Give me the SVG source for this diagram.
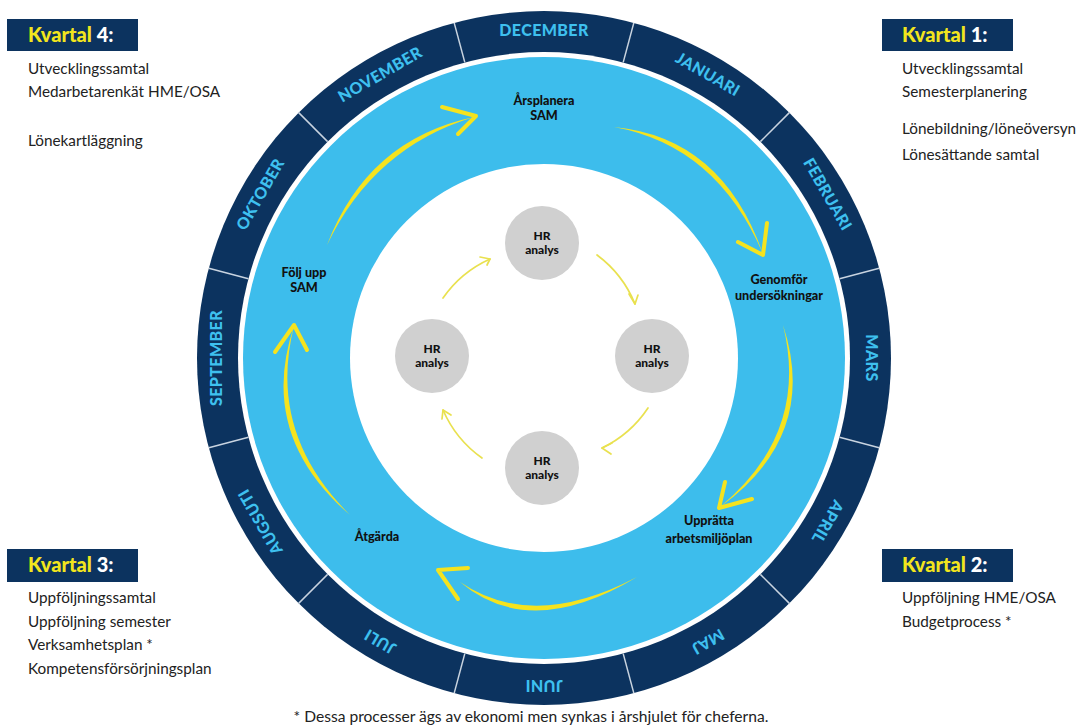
<svg xmlns="http://www.w3.org/2000/svg" width="1089" height="727" viewBox="0 0 1089 727">
<style>
.mo{font-family:Lato,'Liberation Sans',sans-serif;font-weight:900;font-size:16px;fill:#3ec0ef;text-anchor:middle;letter-spacing:0.4px}
.kv{font-family:Lato,'Liberation Sans',sans-serif;font-weight:900;font-size:20px}
.kvy{fill:#f2e51d}
.kvw{fill:#ffffff}
.bd{font-family:Lato,'Liberation Sans',sans-serif;font-size:15.3px;fill:#222}
.ft{font-family:Lato,'Liberation Sans',sans-serif;font-size:15.6px;fill:#222;text-anchor:middle}
.pl{font-family:Lato,'Liberation Sans',sans-serif;font-weight:900;font-size:12.6px;fill:#111;text-anchor:middle}
.hr{font-family:Lato,'Liberation Sans',sans-serif;font-weight:900;font-size:12px;fill:#111;text-anchor:middle}
.box{fill:#0c335f}
.div{stroke:#c9d4e0;stroke-width:1.5}
.ya{fill:#f5e31e}
.yh{fill:none;stroke:#f5e31e;stroke-width:4;stroke-linecap:round;stroke-linejoin:round}
.sa{fill:none;stroke:#e9e14f;stroke-width:1.7;stroke-linecap:round;stroke-linejoin:round}
.gc{fill:#d0d0d0}
</style>
<rect width="1089" height="727" fill="#ffffff"/>

<g id="wheel">
<circle cx="544" cy="358" r="347" fill="#0c335f"/>
<circle cx="544" cy="358" r="306" fill="#ffffff"/>
<circle cx="544" cy="358" r="301" fill="#3dbdec"/>
<circle cx="544" cy="358" r="194" fill="#ffffff"/>
<g id="dividers">
<line class="div" x1="544" y1="52" x2="544" y2="11" transform="rotate(15 544 358)"/>
<line class="div" x1="544" y1="52" x2="544" y2="11" transform="rotate(45 544 358)"/>
<line class="div" x1="544" y1="52" x2="544" y2="11" transform="rotate(75 544 358)"/>
<line class="div" x1="544" y1="52" x2="544" y2="11" transform="rotate(105 544 358)"/>
<line class="div" x1="544" y1="52" x2="544" y2="11" transform="rotate(135 544 358)"/>
<line class="div" x1="544" y1="52" x2="544" y2="11" transform="rotate(165 544 358)"/>
<line class="div" x1="544" y1="52" x2="544" y2="11" transform="rotate(195 544 358)"/>
<line class="div" x1="544" y1="52" x2="544" y2="11" transform="rotate(225 544 358)"/>
<line class="div" x1="544" y1="52" x2="544" y2="11" transform="rotate(255 544 358)"/>
<line class="div" x1="544" y1="52" x2="544" y2="11" transform="rotate(285 544 358)"/>
<line class="div" x1="544" y1="52" x2="544" y2="11" transform="rotate(315 544 358)"/>
<line class="div" x1="544" y1="52" x2="544" y2="11" transform="rotate(345 544 358)"/>
</g>
<g id="months">
<text class="mo" x="544" y="36">DECEMBER</text>
<text class="mo" x="544" y="36" transform="rotate(30 544 358)">JANUARI</text>
<text class="mo" x="544" y="36" transform="rotate(60 544 358)">FEBRUARI</text>
<text class="mo" x="544" y="36" transform="rotate(90 544 358)">MARS</text>
<text class="mo" x="544" y="36" transform="rotate(120 544 358)">APRIL</text>
<text class="mo" x="544" y="36" transform="rotate(150 544 358)">MAJ</text>
<text class="mo" x="544" y="36" transform="rotate(180 544 358)">JUNI</text>
<text class="mo" x="544" y="36" transform="rotate(210 544 358)">JULI</text>
<text class="mo" x="544" y="36" transform="rotate(240 544 358)">AUGSUTI</text>
<text class="mo" x="544" y="36" transform="rotate(270 544 358)">SEPTEMBER</text>
<text class="mo" x="544" y="36" transform="rotate(300 544 358)">OKTOBER</text>
<text class="mo" x="544" y="36" transform="rotate(330 544 358)">NOVEMBER</text>
</g>
</g>

<g id="connectors">
<path class="ya" d="M327 245 Q367.4 139.5 474 117 Q373.6 147.3 327 245 Z"/>
<polyline class="yh" points="442,107 476,116 458,134"/>
<path class="ya" d="M614 127 Q722.2 137.3 763 254 Q716.8 145.7 614 127 Z"/>
<polyline class="yh" points="767,223 763,255 738,242"/>
<path class="ya" d="M783 325 Q819.3 435.4 720 507 Q809.7 432.6 783 325 Z"/>
<polyline class="yh" points="725,482 719,508 752,499"/>
<path class="ya" d="M637 577 Q530.1 641.3 460 582 Q532.9 631.7 637 577 Z"/>
<polyline class="yh" points="468,568 438,570 458,599"/>
<path class="ya" d="M350 515 Q257.1 435.1 294 326 Q266.9 432.9 350 515 Z"/>
<polyline class="yh" points="275,352 294,325 307,350"/>

<path class="sa" d="M597 255 A115 115 0 0 1 635 304"/>
<polyline class="sa" points="629,294 635,304 638,295"/>
<path class="sa" d="M648 408 A115 115 0 0 1 602 448"/>
<polyline class="sa" points="612,443 602,448 611,454"/>
<path class="sa" d="M482 458 A115 115 0 0 1 443 410"/>
<polyline class="sa" points="442,419 443,410 451,415"/>
<path class="sa" d="M443 298 A115 115 0 0 1 490 259"/>
<polyline class="sa" points="480,257 490,259 487,265"/>
</g>

<g id="steps">
<g id="arsplanera"><text class="pl" x="544" y="105">Årsplanera</text><text class="pl" x="544" y="120">SAM</text></g>
<g id="genomfor"><text class="pl" x="779" y="284">Genomför</text><text class="pl" x="779" y="300">undersökningar</text></g>
<g id="uppratta"><text class="pl" x="709" y="525">Upprätta</text><text class="pl" x="709" y="543">arbetsmiljöplan</text></g>
<g id="atgarda"><text class="pl" x="377" y="541">Åtgärda</text></g>
<g id="foljupp"><text class="pl" x="304" y="277">Följ upp</text><text class="pl" x="304" y="292">SAM</text></g>
</g>

<g id="hr-top"><circle class="gc" cx="542" cy="243" r="37"/><text class="hr" x="542" y="240">HR</text><text class="hr" x="542" y="254">analys</text></g>
<g id="hr-right"><circle class="gc" cx="652" cy="356" r="37"/><text class="hr" x="652" y="353">HR</text><text class="hr" x="652" y="367">analys</text></g>
<g id="hr-bottom"><circle class="gc" cx="542" cy="468" r="37"/><text class="hr" x="542" y="465">HR</text><text class="hr" x="542" y="479">analys</text></g>
<g id="hr-left"><circle class="gc" cx="432" cy="356" r="37"/><text class="hr" x="432" y="353">HR</text><text class="hr" x="432" y="367">analys</text></g>

<g id="kvartal4">
<rect class="box" x="7" y="19" width="131" height="32"/>
<text class="kv" x="28" y="42"><tspan class="kvy">Kvartal</tspan><tspan class="kvw"> 4:</tspan></text>
<text class="bd" x="28" y="74">Utvecklingssamtal</text>
<text class="bd" x="28" y="97">Medarbetarenkät HME/OSA</text>
<text class="bd" x="28" y="146">Lönekartläggning</text>
</g>
<g id="kvartal1">
<rect class="box" x="882" y="19" width="131" height="32"/>
<text class="kv" x="902" y="42"><tspan class="kvy">Kvartal</tspan><tspan class="kvw"> 1:</tspan></text>
<text class="bd" x="902" y="74">Utvecklingssamtal</text>
<text class="bd" x="902" y="97">Semesterplanering</text>
<text class="bd" x="902" y="134">Lönebildning/löneöversyn</text>
<text class="bd" x="902" y="160">Lönesättande samtal</text>
</g>
<g id="kvartal3">
<rect class="box" x="7" y="549" width="131" height="33"/>
<text class="kv" x="28" y="572"><tspan class="kvy">Kvartal</tspan><tspan class="kvw"> 3:</tspan></text>
<text class="bd" x="28" y="603">Uppföljningssamtal</text>
<text class="bd" x="28" y="627">Uppföljning semester</text>
<text class="bd" x="28" y="650">Verksamhetsplan *</text>
<text class="bd" x="28" y="674">Kompetensförsörjningsplan</text>
</g>
<g id="kvartal2">
<rect class="box" x="882" y="549" width="131" height="33"/>
<text class="kv" x="902" y="572"><tspan class="kvy">Kvartal</tspan><tspan class="kvw"> 2:</tspan></text>
<text class="bd" x="902" y="603">Uppföljning HME/OSA</text>
<text class="bd" x="902" y="627">Budgetprocess *</text>
</g>
<g id="footer"><text class="ft" x="531" y="722">* Dessa processer ägs av ekonomi men synkas i årshjulet för cheferna.</text></g>
</svg>
